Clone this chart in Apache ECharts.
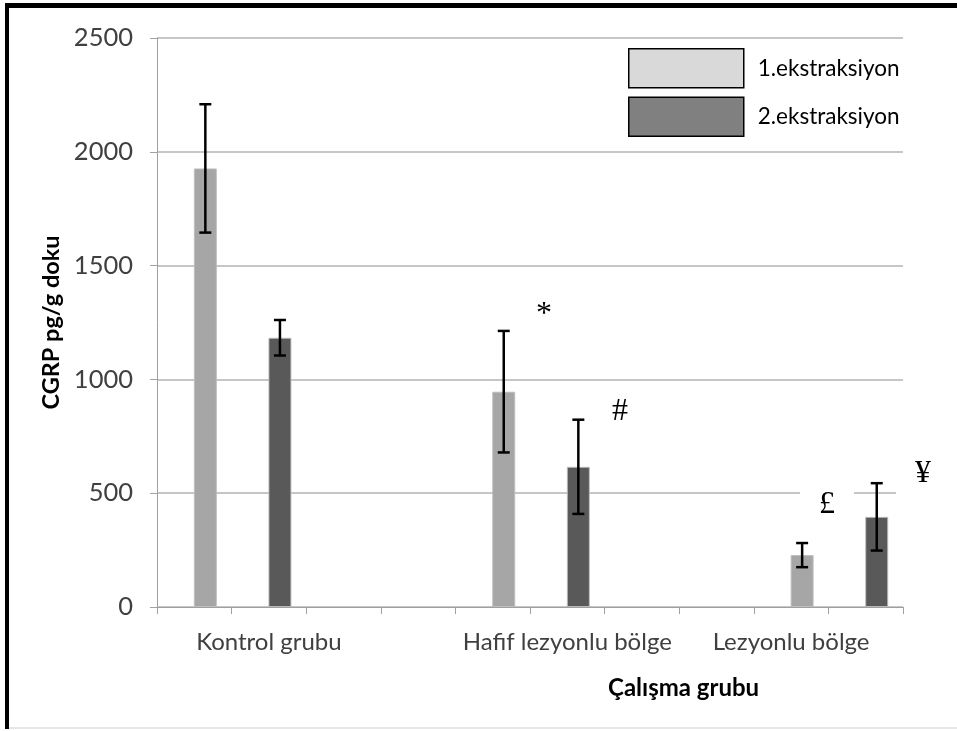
<!DOCTYPE html>
<html>
<head>
<meta charset="utf-8">
<script src="https://cdn.jsdelivr.net/npm/echarts@6/dist/echarts.min.js"></script>
<style>
  html, body { margin: 0; padding: 0; background: #fff; }
  #chart { width: 957px; height: 731px; }
</style>
</head>
<body>
<div id="chart"></div>
<script>
// kategori ekseni: 10 dilim, etiketler sadece üç grupta
const categories = ['', 'Kontrol grubu', '', '', '', 'Hafif lezyonlu bölge', '', '', 'Lezyonlu bölge', '']
const ext1 = [1927, null, null, null, 946, null, null, null, 228, null]
const ext1Err = [282, null, null, null, 267, null, null, null, 53, null]
const ext2 = [null, 1183, null, null, null, 616, null, null, null, 396]
const ext2Err = [null, 78, null, null, null, 207, null, null, null, 148]
const yTicks = [0, 500, 1000, 1500, 2000, 2500]

const FONT = 'Lato'
const BAR_SHIFT = 0.148 // çubuk kategori merkezinden sağa kayık

const chart = echarts.init(document.getElementById('chart'))

function errData(vals, errs) {
  const out = []
  vals.forEach((v, i) => {
    if (v != null) out.push([i, v, errs[i]])
  })
  return out
}

function renderErr(params, api) {
  const band = api.size([1, 0])[0]
  const x = api.coord([api.value(0), 0])[0] + band * BAR_SHIFT
  const top = api.coord([api.value(0), api.value(1) + api.value(2)])[1]
  const bottom = api.coord([api.value(0), api.value(1) - api.value(2)])[1]
  const cap = 6
  const st = { stroke: '#000', lineWidth: 2.5 }
  return {
    type: 'group',
    children: [
      { type: 'line', shape: { x1: x, y1: top, x2: x, y2: bottom }, style: st },
      { type: 'line', shape: { x1: x - cap, y1: top, x2: x + cap, y2: top }, style: st },
      { type: 'line', shape: { x1: x - cap, y1: bottom, x2: x + cap, y2: bottom }, style: st },
    ],
  }
}

const barStyle = (color) => ({ color, borderColor: 'rgba(190,190,190,0.9)', borderWidth: 1 })

chart.setOption({
  animation: false,
  textStyle: { fontFamily: FONT },
  grid: { left: 157, right: 54, top: 38, bottom: 124 },
  legend: {
    orient: 'vertical',
    left: 623,
    top: 43,
    itemWidth: 115,
    itemHeight: 39,
    itemGap: 8,
    icon: 'rect',
    textStyle: { fontFamily: FONT, fontSize: 22.5, color: '#000', padding: [0, 0, 0, 9] },
    data: [
      { name: '1.ekstraksiyon', itemStyle: { color: '#d9d9d9', borderColor: '#000', borderWidth: 1.5 } },
      { name: '2.ekstraksiyon', itemStyle: { color: '#808080', borderColor: '#000', borderWidth: 1.5 } },
    ],
  },
  xAxis: {
    type: 'category',
    data: categories,
    axisLine: { lineStyle: { color: '#a0a0a0', width: 1 } },
    axisTick: { show: true, length: 7, interval: 0, lineStyle: { color: '#a0a0a0' } },
    axisLabel: { interval: 0, margin: 23, fontSize: 24, color: '#404040', fontFamily: FONT },
  },
  yAxis: {
    type: 'value',
    min: yTicks[0],
    max: yTicks[yTicks.length - 1],
    interval: yTicks[1] - yTicks[0],
    name: 'CGRP pg/g doku',
    nameLocation: 'middle',
    nameGap: 85,
    nameTextStyle: { fontFamily: FONT, fontSize: 23.5, fontWeight: 'bold', color: '#000' },
    axisLine: { show: true, lineStyle: { color: '#a0a0a0', width: 1 } },
    axisTick: { show: true, length: 7, lineStyle: { color: '#a0a0a0' } },
    axisLabel: { margin: 24, fontSize: 25.5, color: '#404040', fontFamily: FONT, formatter: (v) => String(v) },
    splitLine: { lineStyle: { color: '#b3b3b3', width: 1.5 } },
  },
  series: [
    { name: 'spacer', type: 'bar', data: categories.map(() => null), barWidth: 23, barGap: '-4%', silent: true },
    { name: '1.ekstraksiyon', type: 'bar', stack: 'g', data: ext1, barWidth: 23, barGap: '-4%', itemStyle: barStyle('#a6a6a6') },
    { name: '2.ekstraksiyon', type: 'bar', stack: 'g', data: ext2, barWidth: 23, barGap: '-4%', itemStyle: barStyle('#595959') },
    { type: 'custom', data: errData(ext1, ext1Err), renderItem: renderErr, z: 5 },
    { type: 'custom', data: errData(ext2, ext2Err), renderItem: renderErr, z: 5 },
  ],
  graphic: [
    // çerçeve
    { type: 'rect', shape: { x: 5, y: 3, width: 952, height: 5 }, style: { fill: '#000' }, z: 20 },
    { type: 'rect', shape: { x: 5, y: 3, width: 4, height: 726 }, style: { fill: '#000' }, z: 20 },
    { type: 'rect', shape: { x: 9, y: 727, width: 948, height: 2 }, style: { fill: '#e6e6e6' }, z: 20 },
    {
      type: 'text', left: 608, top: 676, z: 20,
      style: { text: 'Çalışma grubu', fontFamily: FONT, fontSize: 24, fontWeight: 'bold', fill: '#000' },
    },
    // anlamlılık işaretleri
    { type: 'text', left: 536, top: 299, z: 20, style: { text: '*', fontFamily: 'Liberation Serif', fontSize: 32, fill: '#000' } },
    { type: 'text', left: 612, top: 396, z: 20, style: { text: '#', fontFamily: 'Liberation Serif', fontSize: 32, fill: '#000' } },
    {
      type: 'text', left: 800, top: 483, z: 20,
      style: { text: '£', fontFamily: 'Liberation Serif', fontSize: 32, fill: '#000', backgroundColor: '#fff', padding: [6, 19, 6, 19] },
    },
    {
      type: 'text', left: 896, top: 452, z: 20,
      style: { text: '¥', fontFamily: 'Liberation Serif', fontSize: 32, fill: '#000', backgroundColor: '#fff', padding: [6, 19, 12, 19] },
    },
  ],
})
</script>
</body>
</html>
